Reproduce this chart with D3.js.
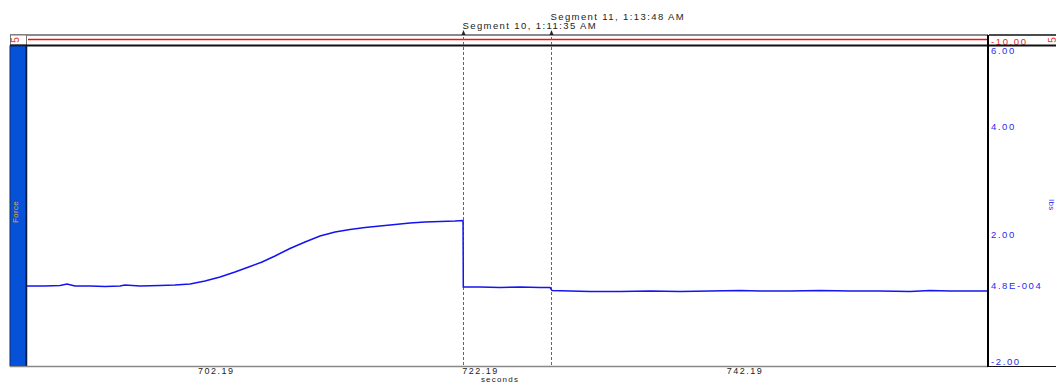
<!DOCTYPE html>
<html>
<head>
<meta charset="utf-8">
<script src="https://cdn.jsdelivr.net/npm/d3@7"></script>
<style>
  body { margin: 0; background: #fff; }
  text { font-family: "Liberation Sans", Arial, sans-serif; letter-spacing: 1.2px; }
</style>
</head>
<body>
<div id="chart"></div>
<script>
// seconds
const times = [689.19, 690.55, 691.69, 692.22, 692.82, 693.96, 695.09, 696.22, 696.60, 697.74,
  699.25, 700.38, 701.52, 702.65, 703.79, 704.92, 706.06, 706.97, 707.95, 709.08,
  710.22, 711.35, 712.49, 713.62, 714.76, 715.89, 717.03, 718.16, 719.30, 720.43,
  721.57, 722.17, 722.19, 723.46, 724.97, 726.48, 728.00, 728.75, 728.90, 730.26,
  731.78, 734.04, 736.32, 738.58, 740.85, 743.12, 744.64, 746.91, 749.18, 751.45,
  753.71, 755.98, 757.50, 759.01, 760.52, 761.80];
// force
const force = [0.000, 0.000, 0.013, 0.050, 0.000, 0.000, -0.013, 0.000, 0.025, 0.000,
  0.013, 0.025, 0.050, 0.125, 0.225, 0.350, 0.488, 0.600, 0.750, 0.938,
  1.100, 1.250, 1.350, 1.413, 1.463, 1.500, 1.538, 1.575, 1.600, 1.613,
  1.625, 1.638, -0.025, -0.025, -0.038, -0.025, -0.038, -0.038, -0.113, -0.125,
  -0.138, -0.138, -0.125, -0.138, -0.125, -0.113, -0.125, -0.125, -0.113, -0.125,
  -0.125, -0.138, -0.113, -0.125, -0.125, -0.125];

const xTicks = [702.19, 722.19, 742.19];
const xTickLabels = ['702.19', '722.19', '742.19'];
const yTicks = [6, 4, 1.3, 0.00048, -2];
const yTickLabels = ['6.00', '4.00', '2.00', '4.8E-004', '-2.00'];
const segTimes = [722.17, 728.80];
const segLabels = ['Segment 10, 1:11:35 AM', 'Segment 11, 1:13:48 AM'];

const W = 1056, H = 383;
const plot = { left: 27, right: 987, top: 46, bottom: 366 };

const svg = d3.select('#chart').append('svg').attr('width', W).attr('height', H);

const x = d3.scaleLinear().domain([689.19, 761.80]).range([plot.left, plot.right]);
const y = d3.scaleLinear().domain([-2, 6]).range([plot.bottom, plot.top]);

// top strip channel
svg.append('line').attr('x1', 10).attr('x2', 988).attr('y1', 35).attr('y2', 35)
  .attr('stroke', '#8a8a8a').attr('stroke-width', 2);
svg.append('line').attr('x1', 989).attr('x2', W).attr('y1', 35).attr('y2', 35)
  .attr('stroke', '#111').attr('stroke-width', 1.5);
svg.append('line').attr('x1', 28).attr('x2', 987).attr('y1', 39.5).attr('y2', 39.5)
  .attr('stroke', '#ee1111').attr('stroke-width', 1.5);
svg.append('rect').attr('x', 10.5).attr('y', 35).attr('width', 16).attr('height', 10)
  .attr('fill', '#fff').attr('stroke', '#777').attr('stroke-width', 1);
svg.append('text').attr('transform', 'translate(15,40) rotate(-90)')
  .attr('text-anchor', 'middle').attr('dominant-baseline', 'central')
  .style('font-size', '10px').style('letter-spacing', '0px').style('fill', '#ee3333').text('5');
svg.append('text').attr('transform', 'translate(1052,40) rotate(-90)')
  .attr('text-anchor', 'middle').attr('dominant-baseline', 'central')
  .style('font-size', '10px').style('letter-spacing', '0px').style('fill', '#ee3333').text('5');
svg.append('text').attr('x', 991).attr('y', 41).attr('dominant-baseline', 'central')
  .style('font-size', '9.5px').style('letter-spacing', '1.6px').style('fill', '#ee2222').text('-10.00');
svg.append('line').attr('x1', 10).attr('x2', W).attr('y1', 45.5).attr('y2', 45.5)
  .attr('stroke', '#111').attr('stroke-width', 2);

// left channel bar
svg.append('rect').attr('x', 10).attr('y', 46).attr('width', 16).attr('height', plot.bottom - 46)
  .attr('fill', '#0552d8').attr('stroke', '#0a2a6a').attr('stroke-width', 1);
svg.append('line').attr('x1', 26.5).attr('x2', 26.5).attr('y1', 46).attr('y2', plot.bottom)
  .attr('stroke', '#0a1a40').attr('stroke-width', 1.5);
svg.append('text').attr('transform', 'translate(15,212) rotate(-90)')
  .attr('text-anchor', 'middle').attr('dominant-baseline', 'central')
  .style('font-size', '8px').style('letter-spacing', '0.3px').style('fill', '#f0a030').text('Force');

// bottom + right frame
svg.append('line').attr('x1', 10).attr('x2', 988).attr('y1', plot.bottom + 0.5).attr('y2', plot.bottom + 0.5)
  .attr('stroke', '#888').attr('stroke-width', 1.5);
svg.append('line').attr('x1', 989).attr('x2', W).attr('y1', plot.bottom + 0.5).attr('y2', plot.bottom + 0.5)
  .attr('stroke', '#111').attr('stroke-width', 1);
svg.append('line').attr('x1', 988).attr('x2', 988).attr('y1', 35).attr('y2', plot.bottom + 1)
  .attr('stroke', '#000').attr('stroke-width', 2);

// right axis
yTicks.forEach((v, i) => {
  const base = i === 0 ? 'hanging' : (i === yTicks.length - 1 ? 'auto' : 'central');
  svg.append('text').attr('x', 991).attr('y', i === 0 ? y(v) + 0.5 : (i === yTicks.length - 1 ? y(v) - 1 : y(v)))
    .attr('dominant-baseline', base)
    .style('font-size', '9.5px').style('letter-spacing', '1.6px').style('fill', '#2a2aee').text(yTickLabels[i]);
});
svg.append('text').attr('transform', 'translate(1051,205) rotate(90)')
  .attr('text-anchor', 'middle').attr('dominant-baseline', 'central')
  .style('font-size', '8px').style('letter-spacing', '0.5px').style('fill', '#2a2aee').text('lbs');

// x axis labels
xTicks.forEach((v, i) => {
  svg.append('text').attr('x', x(v) - 1).attr('y', 371).attr('dominant-baseline', 'central')
    .style('font-size', '9px').style('letter-spacing', '1.5px').style('fill', '#222').text(xTickLabels[i]);
});
svg.append('text').attr('x', 500).attr('y', 379.5).attr('text-anchor', 'middle')
  .attr('dominant-baseline', 'central').style('font-size', '8px').style('fill', '#222').text('seconds');

// segment markers
segTimes.forEach((t, i) => {
  const sx = Math.round(x(t)) + 0.5;
  svg.append('line').attr('x1', sx).attr('x2', sx).attr('y1', 32).attr('y2', plot.bottom)
    .attr('stroke', '#666').attr('stroke-width', 1).attr('stroke-dasharray', '3,2');
  svg.append('path').attr('d', `M${sx - 2},35 L${sx},30 L${sx + 2},35 Z`).attr('fill', '#222');
  svg.append('text').attr('x', sx - 1).attr('y', i === 0 ? 25 : 16).attr('dominant-baseline', 'central')
    .style('font-size', '9.5px').style('letter-spacing', '1.4px').style('fill', '#222').text(segLabels[i]);
});

// data line
const pts = times.map((t, i) => [t, force[i]]);
svg.append('path').datum(pts)
  .attr('fill', 'none').attr('stroke', '#1414f0').attr('stroke-width', 1.5)
  .attr('d', d3.line().x(d => x(d[0])).y(d => y(d[1])));
</script>
</body>
</html>
